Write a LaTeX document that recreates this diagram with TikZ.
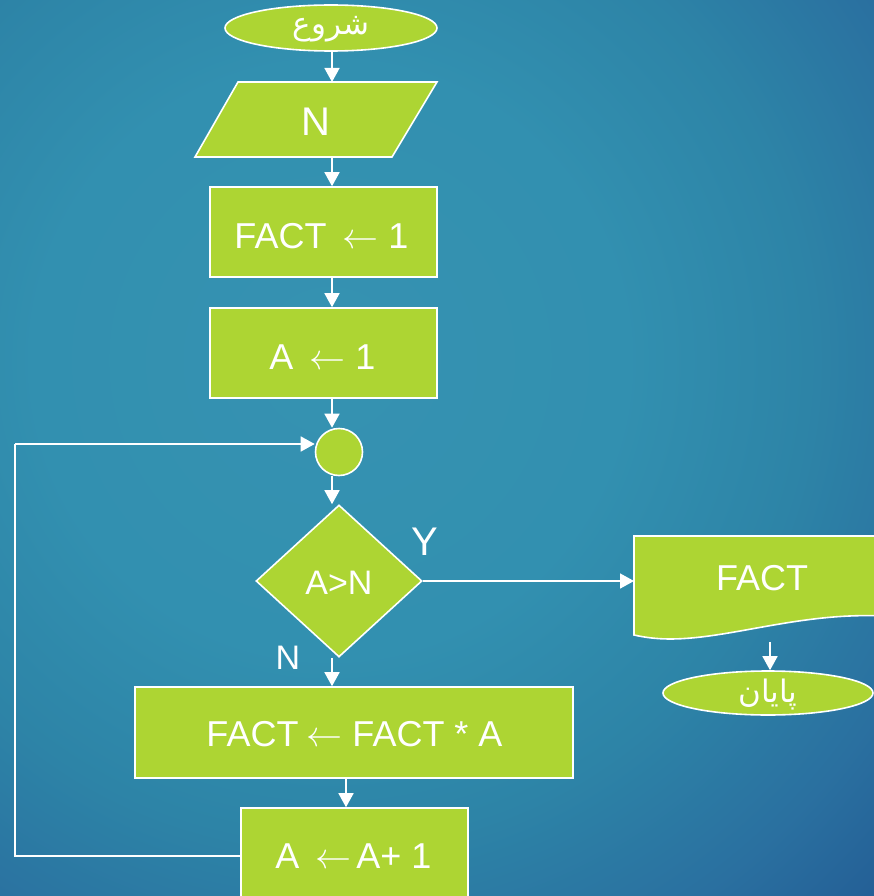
\RequirePackage{fix-cm}
\documentclass[tikz,border=0pt]{standalone}
\usepackage{fontspec}
\setmainfont{Liberation Sans}
\newfontfamily\arabicfont[Script=Arabic]{DejaVu Sans}
\TeXXeTstate=1
\usetikzlibrary{shapes.geometric,arrows.meta}

\definecolor{bgA}{HTML}{3692B1}
\definecolor{bgB}{HTML}{3290B0}
\definecolor{bgC}{HTML}{2D84A7}
\definecolor{bgD}{HTML}{2A70A0}
\definecolor{bgE}{HTML}{225A93}
\definecolor{boxgreen}{HTML}{ADD533}
% radial background: 25bp corresponds to the radius of the shaded circle
\pgfdeclareradialshading{bgshade}{\pgfpoint{0bp}{0bp}}{%
  color(0bp)=(bgA); color(9bp)=(bgB); color(14.6bp)=(bgC);
  color(19.8bp)=(bgD); color(24.4bp)=(bgE); color(50bp)=(bgE)}

\tikzset{
  shapebox/.style={draw=white, line width=1.6pt, fill=boxgreen, inner sep=0pt},
  procbox/.style={shapebox, rectangle},
  termbox/.style={shapebox, ellipse, minimum width=212pt, minimum height=46pt},
  arr/.style={draw=white, line width=1.6pt, -{Triangle[width=15pt,length=14pt]}},
  flow/.style={draw=white, line width=1.6pt},
  big/.style={text=white, font=\fontsize{36}{40}\selectfont},
  arab/.style={text=white, font=\arabicfont\fontsize{31}{36}\selectfont},
}
% assignment arrow as used inside the boxes
\newcommand{\assign}{$\leftarrow$}

\begin{document}
\begin{tikzpicture}[x=1pt, y=-1pt]
\useasboundingbox (0,0) rectangle (874,896);
\begin{scope}
\clip (0,0) rectangle (874,896);
% background
\shade[shading=bgshade] (330,360) circle[radius=820pt];

% main column of the flow
\coordinate (col) at (332,0);

\node[termbox] (start) at (331,28) {};
\node[arab] at (331,29) {\beginR شروع\endR};

% input parallelogram
\filldraw[shapebox] (238,82) -- (437,82) -- (392,157) -- (195,157) -- cycle;
\coordinate (inTop) at (316,82);
\coordinate (inBot) at (316,157);
\node[big, font=\fontsize{40}{44}\selectfont] (inp) at (316,122) {N};

\node[procbox, minimum width=227pt, minimum height=90pt] (init1) at (323.5,232) {};
\node[big] at (321.5,236) {FACT\hspace{16pt}\assign\hspace{10pt}1};

\node[procbox, minimum width=227pt, minimum height=90pt] (init2) at (323.5,353) {};
\node[big] at (322.5,357) {A\hspace{16pt}\assign\hspace{10pt}1};

\node[shapebox, circle, minimum size=47pt] (jn) at (339,452) {};

\node[shapebox, diamond, minimum width=166pt, minimum height=152pt, aspect=1.09] (dec) at (339,581) {};
\node[big, font=\fontsize{34}{38}\selectfont] at (339,583) {A>N};
\node[big, font=\fontsize{40}{44}\selectfont] at (425,542) {Y};
\node[big, font=\fontsize{34}{38}\selectfont] at (288,658) {N};

\node[procbox, minimum width=438pt, minimum height=91pt] (mul) at (354,732.5) {};
\node[big] at (354.5,734) {FACT\hspace{8pt}\assign\hspace{10pt}FACT * A};

\node[procbox, minimum width=227pt, minimum height=96pt] (inc) at (354.5,856) {};
\node[big] at (353.5,856) {A\hspace{16pt}\assign\hspace{5pt}A+ 1};

% output document shape
\filldraw[shapebox] (634,536) -- (884,536) -- (884,616)
  .. controls (800,612) and (730,639) .. (670,639)
  .. controls (655,639) and (643,637) .. (634,635) -- cycle;
\coordinate (docL) at (634,581);
\coordinate (docB) at (770,642);
\node[big] (out) at (762,578) {FACT};

\node[termbox, minimum width=210pt, minimum height=44pt] (stop) at (768,693) {};
\node[arab] at (768,694) {\beginR پایان\endR};

% connectors
\draw[arr] (col |- start.south) -- (col |- inTop);
\draw[arr] (col |- inBot) -- (col |- init1.north);
\draw[arr] (col |- init1.south) -- (col |- init2.north);
\draw[arr] (col |- init2.south) -- (col |- jn.north);
\draw[arr] (col |- jn.south) -- (col |- dec.north);
\draw[arr] (col |- dec.south) -- (col |- mul.north);
\coordinate (col2) at (346,0);
\draw[arr] (col2 |- mul.south) -- (col2 |- inc.north);
\draw[arr] (dec.east) -- (docL);
\draw[arr] (docB) -- (docB |- stop.north);

% loop back to the connector circle
\coordinate (loopTop) at (15,444);
\draw[flow] (inc.west) -| (loopTop);
\draw[arr] (loopTop) -- (jn.west |- loopTop);
\end{scope}
\end{tikzpicture}
\end{document}
